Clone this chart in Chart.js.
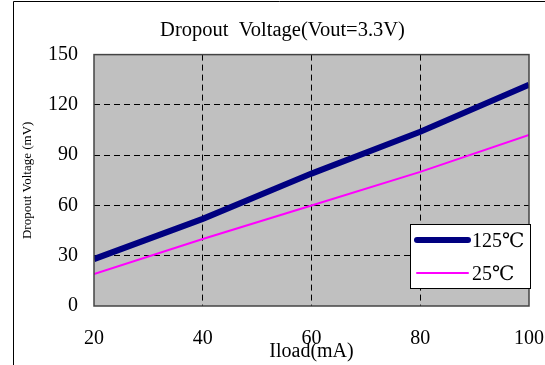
<!DOCTYPE html>
<html>
<head>
<meta charset="utf-8">
<script src="https://cdn.jsdelivr.net/npm/chart.js@4/dist/chart.umd.min.js"></script>
<style>
  html, body { margin: 0; padding: 0; background: #fff; }
  #wrap { width: 545px; height: 365px; }
</style>
</head>
<body>
<div id="wrap"><canvas id="chart"></canvas></div>
<script>
// values
var iload = [20, 40, 60, 80, 100];
var drop125 = [28, 52, 79, 104, 132];
var drop25 = [19, 40, 60, 80, 102];
var seriesLabels = ['125℃', '25℃'];
var xTicks = [20, 40, 60, 80, 100];
var yTicks = [0, 30, 60, 90, 120, 150];

var serif = '"Liberation Serif", "DejaVu Serif", "Times New Roman", serif';

function points(ys) {
    return iload.map(function (x, i) { return { x: x, y: ys[i] }; });
}

// gray plot background, outer frame, plot border and legend box
var decor = {
    id: 'decor',
    beforeDraw: function (chart) {
        var c = chart.ctx, a = chart.chartArea;
        c.save();
        c.fillStyle = '#fff';
        c.fillRect(0, 0, chart.width, chart.height);
        c.fillStyle = '#c0c0c0';
        c.fillRect(a.left, a.top, a.right - a.left, a.bottom - a.top);
        c.strokeStyle = '#000';
        c.lineWidth = 1;
        c.beginPath();
        c.moveTo(13.5, chart.height);
        c.lineTo(13.5, 1.5);
        c.lineTo(chart.width, 1.5);
        c.stroke();
        c.restore();
    },
    afterDatasetsDraw: function (chart) {
        var c = chart.ctx, a = chart.chartArea;
        c.save();
        c.strokeStyle = '#444';
        c.lineWidth = 1.5;
        c.strokeRect(a.left, a.top, a.right - a.left, a.bottom - a.top);

        var w = 120, h = 64;
        var x0 = a.right - w + 1, y0 = a.bottom - 18 - h;
        c.fillStyle = '#fff';
        c.fillRect(x0, y0, w, h);
        c.strokeStyle = '#000';
        c.lineWidth = 1;
        c.strokeRect(x0 + 0.5, y0 + 0.5, w, h);
        c.font = '20px ' + serif;
        c.textBaseline = 'middle';
        c.fillStyle = '#000';
        chart.data.datasets.forEach(function (ds, i) {
            var y = y0 + 16 + i * 33;
            c.strokeStyle = ds.borderColor;
            c.lineWidth = ds.borderWidth;
            c.lineCap = 'round';
            c.beginPath();
            c.moveTo(x0 + 7, y);
            c.lineTo(x0 + 58, y);
            c.stroke();
            c.fillText(ds.label, x0 + 62, y + 2);
        });
        c.restore();
    }
};

var dash = function (ctx) {
    var n = ctx.scale ? ctx.scale.ticks.length : 0;
    return (ctx.index === 0 || ctx.index === n - 1) ? 'rgba(0,0,0,0)' : '#000';
};

new Chart(document.getElementById('chart'), {
    type: 'line',
    data: {
        datasets: [{
            label: seriesLabels[0],
            data: points(drop125),
            borderColor: '#000080',
            borderWidth: 6,
            pointRadius: 0
        }, {
            label: seriesLabels[1],
            data: points(drop25),
            borderColor: '#ff00ff',
            borderWidth: 2,
            pointRadius: 0
        }]
    },
    plugins: [decor],
    options: {
        responsive: true,
        maintainAspectRatio: false,
        animation: false,
        layout: { padding: { left: 20, right: 0, top: 0, bottom: 0 } },
        plugins: {
            legend: { display: false },
            tooltip: { enabled: false },
            title: {
                display: true,
                text: 'Dropout  Voltage(Vout=3.3V)',
                color: '#000',
                font: { family: serif, size: 20.5, weight: 'normal' },
                padding: { top: 18, bottom: 12 }
            }
        },
        scales: {
            x: {
                type: 'linear',
                min: xTicks[0],
                max: xTicks[xTicks.length - 1],
                afterBuildTicks: function (s) { s.ticks = xTicks.map(function (v) { return { value: v }; }); },
                afterFit: function (s) { s.height = 59; s.paddingRight = 16; },
                grid: { drawTicks: false, color: dash },
                border: { display: false, dash: [6, 4] },
                ticks: { color: '#000', padding: 21, maxRotation: 0, font: { family: serif, size: 20 } },
                title: {
                    display: true,
                    text: 'Iload(mA)',
                    color: '#000',
                    font: { family: serif, size: 20 },
                    padding: { top: 0, bottom: 1 }
                }
            },
            y: {
                min: yTicks[0],
                max: yTicks[yTicks.length - 1],
                afterBuildTicks: function (s) { s.ticks = yTicks.map(function (v) { return { value: v }; }); },
                afterFit: function (s) { s.width = 74; },
                grid: { drawTicks: false, color: dash },
                border: { display: false, dash: [6, 4] },
                ticks: { color: '#000', padding: 16, font: { family: serif, size: 20 } },
                title: {
                    display: true,
                    text: 'Dropout Voltage (mV)',
                    color: '#000',
                    font: { family: serif, size: 13 },
                    padding: { top: 0, bottom: 0 }
                }
            }
        }
    }
});
</script>
</body>
</html>
